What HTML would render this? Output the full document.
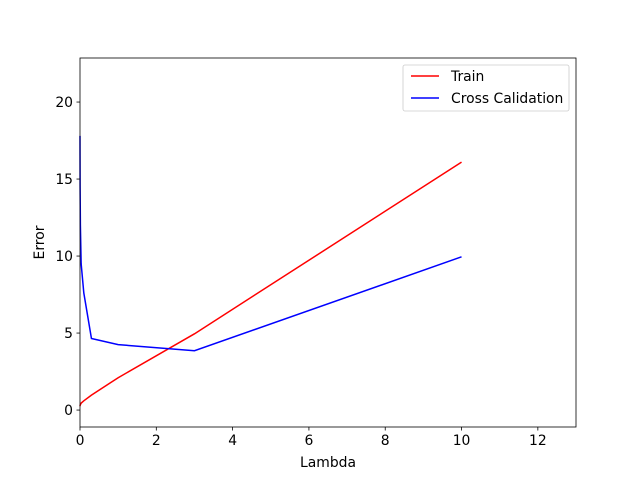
<!DOCTYPE html>
<html><head><meta charset="utf-8"><style>
body{margin:0;background:#fff;}
text{font-family:"DejaVu Sans","Liberation Sans",sans-serif;font-size:13.9px;fill:#000;}
</style></head><body>
<svg id="chart" width="640" height="480"></svg>
<script>
const lambdas=[0,0.001,0.003,0.01,0.03,0.1,0.3,1,3,10];
const trainErr=[0.25,0.27,0.3,0.35,0.45,0.6,0.97,2.1,4.95,16.1];
const cvErr=[17.8,16.5,14.5,12.0,9.5,7.6,4.65,4.25,3.85,9.95];
const xTicks=[0,2,4,6,8,10,12];
const yTicks=[0,5,10,15,20];
const L=80,R=576,T=58,B=427,xmin=0,xmax=13.0,ymin=-1.1,ymax=22.86;
const sx=v=>L+(v-xmin)/(xmax-xmin)*(R-L);
const sy=v=>B-(v-ymin)/(ymax-ymin)*(B-T);
const svg=document.getElementById('chart');
const NS='http://www.w3.org/2000/svg';
function mk(t,a,p){const e=document.createElementNS(NS,t);for(const k in a)e.setAttribute(k,a[k]);(p||svg).appendChild(e);return e;}
function line(vals,color,name){
 const e=mk('polyline',{points:lambdas.map((x,i)=>sx(x)+','+sy(vals[i])).join(' '),fill:'none',stroke:color,'stroke-width':1.5});
 
 
}
line(trainErr,'#ff0000','train-line');
line(cvErr,'#0000ff','cross-validation-line');
const frame=mk('rect',{x:L,y:T,width:R-L,height:B-T,fill:'none',stroke:'#000','stroke-width':0.8});


xTicks.forEach(v=>{const x=sx(v);mk('line',{x1:x,x2:x,y1:B,y2:B+3.5,stroke:'#000','stroke-width':0.8});
 const t=mk('text',{x:x,y:B+18,'text-anchor':'middle'});t.textContent=v;
 
 });
yTicks.forEach(v=>{const y=sy(v);mk('line',{x1:L-3.5,x2:L,y1:y,y2:y,stroke:'#000','stroke-width':0.8});
 const t=mk('text',{x:L-7,y:y+5,'text-anchor':'end'});t.textContent=v;
 
 });
const xl=mk('text',{x:(L+R)/2,y:467,'text-anchor':'middle'});xl.textContent='Lambda';


const yl=mk('text',{x:44,y:(T+B)/2,'text-anchor':'middle',transform:'rotate(-90 44 '+(T+B)/2+')'});yl.textContent='Error';


const lg=mk('g',{});


mk('rect',{x:403,y:65,width:166,height:46,rx:2,fill:'#fff',stroke:'#ccc','stroke-width':0.8},lg);
mk('line',{x1:411,x2:439,y1:76,y2:76,stroke:'#ff0000','stroke-width':1.5},lg);
mk('line',{x1:411,x2:439,y1:98,y2:98,stroke:'#0000ff','stroke-width':1.5},lg);
const l1=mk('text',{x:451,y:81},lg);l1.textContent='Train';


const l2=mk('text',{x:451,y:103},lg);l2.textContent='Cross Calidation';


</script>
</body></html>
